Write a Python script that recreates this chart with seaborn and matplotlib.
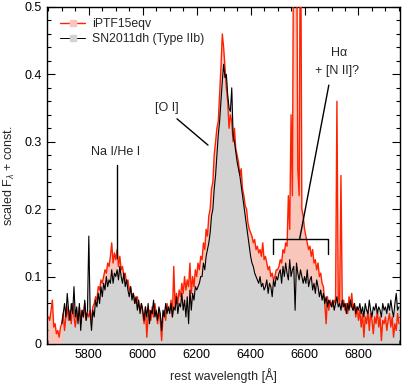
import numpy as np
import pandas as pd
import matplotlib
matplotlib.use("Agg")
import matplotlib.pyplot as plt
from matplotlib.ticker import MultipleLocator
from matplotlib.lines import Line2D
import seaborn as sns

# ---------------- data ----------------
wavelength = np.arange(5650, 6951, 5)  # 5 A grid, 5650..6950

sn2011dh = [np.nan] * 10 + [
    # 5700-5795
    0.03, 0.045, 0.06, 0.04, 0.075, 0.05, 0.035, 0.06, 0.045, 0.085, 0.04, 0.055, 0.03, 0.06, 0.02, 0.05, 0.04, 0.065, 0.035, 0.05,
    # 5800-5895
    0.16, 0.045, 0.02, 0.05, 0.04, 0.065, 0.055, 0.075, 0.06, 0.085, 0.07, 0.09, 0.08, 0.1, 0.085, 0.095, 0.09, 0.11, 0.09, 0.105,
    # 5900-5995
    0.1, 0.11, 0.095, 0.115, 0.1, 0.09, 0.105, 0.085, 0.095, 0.08, 0.07, 0.085, 0.065, 0.075, 0.06, 0.07, 0.05, 0.065, 0.045, 0.06,
    # 6000-6095
    0.05, 0.035, 0.055, 0.04, 0.06, 0.03, 0.05, 0.045, 0.065, 0.04, 0.05, 0.035, 0.055, 0.045, 0.02, 0.05, 0.04, 0.06, 0.045, 0.055,
    # 6100-6195
    0.045, 0.06, 0.04, 0.055, 0.05, 0.07, 0.045, 0.06, 0.055, 0.075, 0.05, 0.065, 0.04, 0.07, 0.03, 0.08, 0.05, 0.075, 0.065, 0.085,
    # 6200-6295
    0.08, 0.085, 0.09, 0.1, 0.1, 0.12, 0.11, 0.13, 0.14, 0.15, 0.165, 0.19, 0.2, 0.23, 0.25, 0.28, 0.31, 0.33, 0.36, 0.39,
    # 6300-6395
    0.415, 0.395, 0.40, 0.37, 0.35, 0.345, 0.38, 0.31, 0.30, 0.285, 0.27, 0.26, 0.25, 0.235, 0.22, 0.205, 0.19, 0.175, 0.16, 0.145,
    # 6400-6495
    0.13, 0.12, 0.115, 0.105, 0.1, 0.095, 0.09, 0.1, 0.085, 0.09, 0.08, 0.085, 0.095, 0.075, 0.09, 0.085, 0.07, 0.095, 0.085, 0.1,
    # 6500-6595
    0.095, 0.105, 0.11, 0.09, 0.115, 0.1, 0.12, 0.105, 0.095, 0.125, 0.1, 0.11, 0.115, 0.05, 0.12, 0.105, 0.095, 0.11, 0.1, 0.09,
    # 6600-6695
    0.1, 0.09, 0.11, 0.085, 0.095, 0.1, 0.08, 0.09, 0.075, 0.095, 0.085, 0.07, 0.08, 0.065, 0.075, 0.06, 0.07, 0.055, 0.065, 0.06,
    # 6700-6795
    0.055, 0.065, 0.05, 0.06, 0.07, 0.055, 0.06, 0.05, 0.065, 0.055, 0.06, 0.045, 0.06, 0.05, 0.065, 0.055, 0.05, 0.06, 0.045, 0.055,
    # 6800-6895
    0.05, 0.06, 0.045, 0.055, 0.04, 0.06, 0.05, 0.045, 0.065, 0.05, 0.04, 0.055, 0.05, 0.06, 0.045, 0.055, 0.05, 0.04, 0.06, 0.05,
    # 6900-6950
    0.055, 0.045, 0.06, 0.05, 0.065, 0.05, 0.04, 0.06, 0.075, 0.05, 0.055,
]

iptf15eqv = [
    # 5650-5695
    0.04, 0.035, 0.05, 0.065, 0.025, 0.03, 0.015, 0.02, 0.01, 0.025,
    # 5700-5795
    0.03, 0.045, 0.02, 0.04, 0.055, 0.035, 0.05, 0.03, 0.06, 0.04, 0.025, 0.045, 0.035, 0.055, 0.03, 0.05, 0.04, 0.06, 0.035, 0.045,
    # 5800-5895
    0.04, 0.05, 0.035, 0.055, 0.06, 0.07, 0.065, 0.085, 0.08, 0.095, 0.09, 0.1, 0.11, 0.105, 0.12, 0.115, 0.13, 0.15, 0.12, 0.135,
    # 5900-5995
    0.125, 0.14, 0.115, 0.13, 0.11, 0.115, 0.1, 0.105, 0.09, 0.095, 0.08, 0.085, 0.07, 0.075, 0.065, 0.06, 0.07, 0.055, 0.05, 0.06,
    # 6000-6095
    0.045, 0.03, 0.055, 0.01, 0.04, 0.05, 0.035, 0.055, 0.04, 0.06, 0.045, 0.03, 0.05, 0.035, 0.005, 0.04, 0.05, 0.035, 0.06, 0.05,
    # 6100-6195
    0.05, 0.065, 0.04, 0.115, 0.055, 0.075, 0.06, 0.08, 0.07, 0.09, 0.075, 0.1, 0.08, 0.095, 0.085, 0.12, 0.075, 0.1, 0.085, 0.11,
    # 6200-6295
    0.1, 0.12, 0.11, 0.13, 0.125, 0.15, 0.14, 0.17, 0.16, 0.19, 0.2, 0.23, 0.24, 0.28, 0.3, 0.32, 0.33, 0.37, 0.41, 0.46,
    # 6300-6395
    0.44, 0.41, 0.38, 0.36, 0.32, 0.34, 0.33, 0.3, 0.32, 0.29, 0.28, 0.27, 0.25, 0.26, 0.23, 0.22, 0.205, 0.2, 0.18, 0.17,
    # 6400-6495
    0.165, 0.16, 0.15, 0.155, 0.14, 0.145, 0.135, 0.14, 0.13, 0.15, 0.125, 0.13, 0.12, 0.11, 0.115, 0.1, 0.105, 0.095, 0.1, 0.11,
    # 6500-6595
    0.11, 0.115, 0.125, 0.12, 0.14, 0.135, 0.15, 0.145, 0.22, 0.17, 0.34, 0.22, 0.7, 0.65, 0.7, 0.26, 0.22, 0.7, 0.2, 0.19,
    # 6600-6695
    0.17, 0.16, 0.15, 0.14, 0.145, 0.13, 0.14, 0.12, 0.125, 0.11, 0.12, 0.1, 0.105, 0.09, 0.085, 0.06, 0.03, 0.07, 0.05, 0.065,
    # 6700-6795
    0.06, 0.055, 0.065, 0.06, 0.36, 0.07, 0.06, 0.25, 0.055, 0.065, 0.05, 0.06, 0.045, 0.07, 0.055, 0.075, 0.05, 0.06, 0.04, 0.055,
    # 6800-6895
    0.035, 0.05, 0.025, 0.045, 0.01, 0.04, 0.03, 0.05, 0.02, 0.045, 0.035, 0.015, 0.04, 0.03, 0.05, 0.025, 0.04, 0.005, 0.035, 0.03,
    # 6900-6950
    0.04, 0.02, 0.035, 0.045, 0.025, 0.04, 0.01, 0.03, 0.02, 0.045, 0.03,
]

series_names = ["iPTF15eqv", "SN2011dh (Type IIb)"]
x_ticks = [5800, 6000, 6200, 6400, 6600, 6800]
y_ticks = [0, 0.1, 0.2, 0.3, 0.4, 0.5]
y_ticklabels = ["0", "0.1", "0.2", "0.3", "0.4", "0.5"]

assert len(sn2011dh) == len(wavelength) == len(iptf15eqv)

df = pd.DataFrame({"wave": wavelength, "iptf": iptf15eqv, "dh": sn2011dh})

# ---------------- style ----------------
sns.set_style("ticks")
plt.rcParams["font.family"] = ["Liberation Sans", "DejaVu Sans"]
plt.rcParams["mathtext.fontset"] = "custom"
plt.rcParams["mathtext.rm"] = "Liberation Sans"
plt.rcParams["mathtext.it"] = "Liberation Sans:italic"

RED = "#ff2200"
PINK = "#f9c6bc"
GREY = "#d3d3d3"
FS = 9

fig = plt.figure(figsize=(4.07, 3.86), dpi=100)
ax = fig.add_axes([0.1155, 0.109, 0.868, 0.873])

ax.fill_between(df["wave"], 0, df["iptf"], color=PINK, lw=0, zorder=1)
m = df["dh"].notna()
ax.fill_between(df["wave"][m], 0, df["dh"][m], color=GREY, lw=0, zorder=2)
sns.lineplot(data=df, x="wave", y="iptf", color=RED, lw=1.0, ax=ax, zorder=3)
sns.lineplot(data=df[m], x="wave", y="dh", color="black", lw=0.8, ax=ax, zorder=4)

ax.set_xlim(5645, 6955)
ax.set_ylim(0, 0.5)
ax.set_xticks(x_ticks)
ax.set_yticks(y_ticks)
ax.set_yticklabels(y_ticklabels)
ax.xaxis.set_minor_locator(MultipleLocator(50))
ax.yaxis.set_minor_locator(MultipleLocator(0.02))
ax.tick_params(which="both", direction="in", top=True, right=True, width=0.8,
               labelsize=FS, colors="black")
ax.tick_params(which="major", length=6, pad=4)
ax.tick_params(which="minor", length=3)
for s in ax.spines.values():
    s.set_linewidth(1.0)
    s.set_color("black")

ax.set_xlabel("rest wavelength [Å]", fontsize=FS, labelpad=5)
ax.set_ylabel(r"scaled F$_{\lambda}$ + const.", fontsize=FS, labelpad=5)

# annotations
ann_kw = dict(color="black", lw=1.0, zorder=6)
ax.plot([5905, 5905], [0.128, 0.266], **ann_kw)
ax.text(5898, 0.285, "Na I/He I", ha="center", va="center", fontsize=FS)
ax.plot([6127, 6242], [0.334, 0.295], **ann_kw)
ax.text(6088, 0.35, "[O I]", ha="center", va="center", fontsize=FS)
ax.plot([6483, 6483, 6686, 6686], [0.134, 0.156, 0.156, 0.134], **ann_kw)
ax.plot([6582, 6690], [0.156, 0.384], **ann_kw)
ax.text(6727, 0.432, "Hα", ha="center", va="center", fontsize=FS)
ax.text(6720, 0.405, "+ [N II]?", ha="center", va="center", fontsize=FS)

handles = [
    Line2D([], [], color=RED, lw=1.0, marker="s", markersize=5,
           markerfacecolor=PINK, markeredgecolor=PINK),
    Line2D([], [], color="black", lw=0.7, marker="s", markersize=5,
           markerfacecolor=GREY, markeredgecolor=GREY),
]
ax.legend(handles, series_names, loc="upper left", frameon=False, fontsize=8.8,
          handlelength=2.0, handletextpad=0.6, labelspacing=0.25,
          borderaxespad=0.4, bbox_to_anchor=(0.01, 0.995))

fig.savefig("out.png", dpi=100)
